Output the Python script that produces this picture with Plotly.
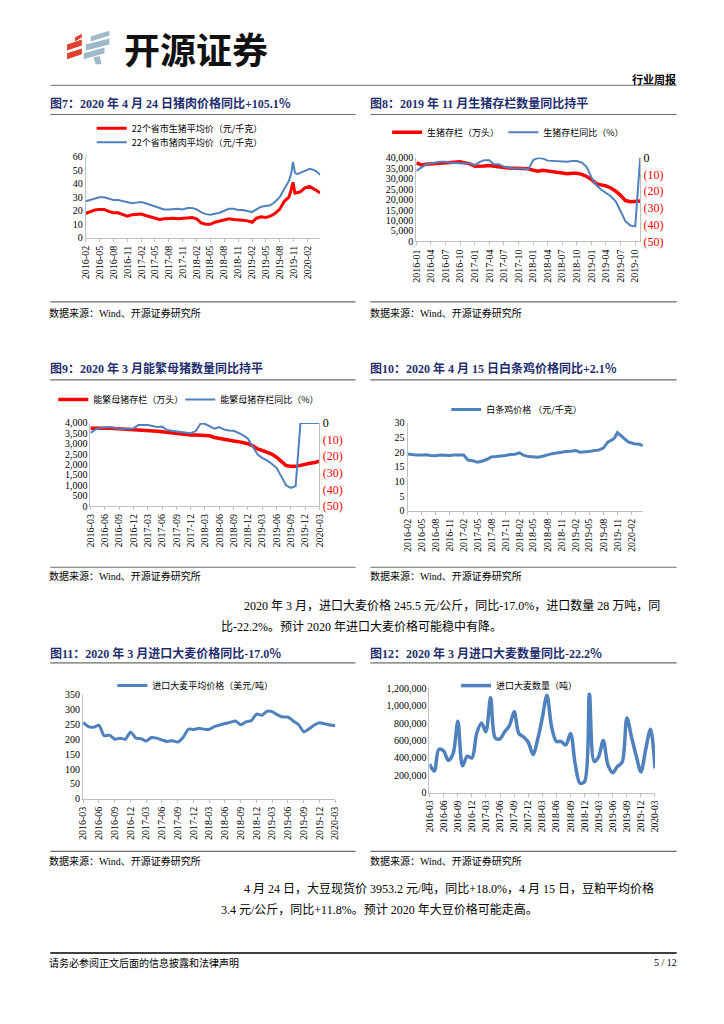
import plotly.graph_objects as go

W, H = 724, 1024


def px(x):
    return x / W


def py(y):
    return 1 - y / H


def month_range(start_year, start_month, n):
    out = []
    y, m = start_year, start_month
    for _ in range(n):
        out.append(f"{y:04d}-{m:02d}-01")
        m += 1
        if m > 12:
            m = 1
            y += 1
    return out


SERIF = "Liberation Serif, Noto Sans CJK SC, serif"
CJK = "Noto Sans CJK SC, sans-serif"
RED = "#FF0000"
BLUE = "#4F81BD"
NAVY = "#1F2E6E"
AXIS = "#BFBFBF"
RULE = "#6B6B6B"

# ---------------- data ----------------
# Fig 7: pork / live hog prices (yuan/kg)
dates7 = month_range(2016, 2, 44) + [
    "2019-10-01", "2019-10-15", "2019-10-28", "2019-11-10", "2019-11-25",
    "2019-12-15", "2020-01-15", "2020-02-15", "2020-03-15", "2020-04-01", "2020-04-24"]
hog7 = [18, 19.5, 20.5, 21, 21, 19.5, 18.5, 18.5, 17.5, 16, 17, 17.5,
        17.5, 16.5, 15.5, 14.5, 13.5, 14, 14.5, 14.5, 14, 14.5, 15, 15,
        14, 11, 10, 10, 11.5, 12.5, 13.5, 14, 13.5, 13.5, 13, 12.5,
        11.5, 14.5, 15.5, 15, 16, 18, 21, 27,
        30, 35, 41, 33, 33.5, 34, 37, 38, 36, 35, 33]
pork7 = [27, 28, 29, 30, 30, 29, 28, 28, 27, 26, 25.5, 26,
         26.5, 25.5, 24.5, 23.5, 22, 21, 21, 21.5, 21.5, 21, 22, 22,
         21, 19, 17.5, 17, 17.5, 18.5, 20, 21.5, 21.5, 20.5, 20.5, 20,
         19, 21, 23, 23.5, 24, 26.5, 30, 36,
         42, 47, 56, 48, 47, 48, 49.5, 51, 50, 49, 46.5]

# Fig 8: hog inventory
dates8 = month_range(2016, 1, 47)
stock8 = [37500, 36500, 36800, 37000, 37200, 37500, 37800, 37800, 37900, 38000, 37500, 37000,
          35900, 35800, 36000, 36200, 35800, 35600, 35300, 35000, 35000, 34900, 34800, 34700,
          34000, 33500, 34000, 33600, 33200, 32700, 32400, 32300, 32500, 32500, 32000, 31000,
          29500, 27500, 27000, 26500, 25500, 24000, 22000, 19500, 19000, 19000, 19300]
yoy8 = [-8, -6, -4, -3.5, -3, -2.5, -2.5, -3, -3, -3.5, -3.5, -3.5,
        -4.5, -2.5, -1.5, -1.5, -4, -4, -5.5, -6, -6.5, -6.5, -6.5, -7,
        -1.5, -0.2, -0.5, -1.8, -2, -2, -2.2, -2.5, -2, -2, -3, -5.5,
        -12, -16.5, -19, -21, -23, -26, -32, -38, -40.5, -41, 0]

# Fig 9: breeding sow inventory
dates9 = month_range(2016, 3, 49)
sow9 = [3750, 3760, 3770, 3760, 3750, 3730, 3720, 3700, 3680, 3660,
        3650, 3640, 3630, 3620, 3600, 3580, 3550, 3520, 3500, 3480, 3460, 3420,
        3420, 3400, 3420, 3380, 3300, 3250, 3200, 3150, 3130, 3100, 3050, 3000,
        2900, 2750, 2680, 2600, 2500, 2350, 2150, 1950, 1910, 1910, 1960, 2030,
        2060, 2100, 2160]
yoy9 = [-6, -4, -3, -2.7, -2.5, -3, -3.5, -3.5, -3.3, -3.3,
        -1.2, -1.2, -1.3, -1.8, -2.5, -2.2, -4.2, -4.7, -5, -5.3, -5.5, -6.2,
        -5, -0.5, -0.5, -1.8, -3.5, -2.5, -4, -4.5, -4.7, -6, -7.5, -9.5,
        -14, -19, -21, -22.5, -24.5, -27, -32, -37.5, -39, -38, 0, 0,
        0, 0, 0]

# Fig 10: white-feather broiler price (yuan/kg)
dates10 = month_range(2016, 2, 43) + [
    "2019-09-01", "2019-10-01", "2019-10-15", "2019-11-01", "2019-11-28",
    "2019-12-20", "2020-01-10", "2020-02-18", "2020-03-25", "2020-04-15"]
chicken10 = [19.4, 19.1, 19.0, 19.0, 19.1, 18.9, 18.8, 19.0, 18.9, 18.9, 19.0,
             18.9, 19.0, 17.3, 17.1, 16.6, 16.9, 17.5, 18.4, 18.5, 18.6, 18.9, 19.2,
             19.3, 19.8, 18.9, 18.5, 18.3, 18.3, 18.6, 19.1, 19.5, 19.7, 20.0, 20.2,
             20.3, 20.6, 20.0, 20.0, 20.2, 20.6, 20.7, 21.4,
             23.5, 24.3, 25.0, 26.7, 25.5, 24.4, 23.5, 22.9, 22.7, 22.2]

# Fig 11: imported barley price (USD/t)
dates11 = month_range(2016, 3, 49)
barley_price11 = [257, 243, 241, 247, 212, 214, 200, 204, 200, 225,
                  204, 202, 194, 206, 204, 198, 193, 195, 191, 206, 234, 233,
                  237, 234, 233, 243, 248, 253, 257, 262, 249, 259, 263, 285,
                  281, 295, 293, 282, 275, 275, 262, 250, 225, 235, 248, 256,
                  252, 248, 245.5]

# Fig 12: imported barley volume (t)
dates12 = month_range(2016, 3, 49)
barley_qty12 = [330000, 250000, 500000, 480000, 370000, 450000, 820000, 310000, 420000, 400000,
                680000, 800000, 700000, 1090000, 630000, 620000, 700000, 770000, 930000, 680000,
                640000, 580000, 440000, 620000, 850000, 1120000, 760000, 590000, 590000, 550000,
                680000, 330000, 110000, 130000, 1130000, 360000, 410000, 600000, 320000, 230000,
                300000, 350000, 860000, 640000, 420000, 240000, 500000, 730000, 280000]

neg_ticks = [0, -10, -20, -30, -40, -50]
neg_text = ["0"] + [f'<span style="color:{RED}">({abs(v)})</span>' for v in neg_ticks[1:]]

# ---------------- traces ----------------
fig = go.Figure()

fig.add_trace(go.Scatter(x=dates7, y=hog7, name="22个省市生猪平均价（元/千克）", mode="lines",
                         line=dict(color=RED, width=3), xaxis="x", yaxis="y", legend="legend"))
fig.add_trace(go.Scatter(x=dates7, y=pork7, name="22个省市猪肉平均价（元/千克）", mode="lines",
                         line=dict(color=BLUE, width=2), xaxis="x", yaxis="y", legend="legend7"))

fig.add_trace(go.Scatter(x=dates8, y=stock8, name="生猪存栏（万头）", mode="lines",
                         line=dict(color=RED, width=3.5), xaxis="x2", yaxis="y2", legend="legend2"))
fig.add_trace(go.Scatter(x=dates8, y=yoy8, name="生猪存栏同比（%）", mode="lines",
                         line=dict(color=BLUE, width=2), xaxis="x2", yaxis="y7", legend="legend8"))

fig.add_trace(go.Scatter(x=dates9, y=sow9, name="能繁母猪存栏（万头）", mode="lines",
                         line=dict(color=RED, width=3.5), xaxis="x3", yaxis="y3", legend="legend3"))
fig.add_trace(go.Scatter(x=dates9, y=yoy9, name="能繁母猪存栏同比（%）", mode="lines",
                         line=dict(color=BLUE, width=2), xaxis="x3", yaxis="y8", legend="legend9"))

fig.add_trace(go.Scatter(x=dates10, y=chicken10, name="白条鸡价格 （元/千克）", mode="lines",
                         line=dict(color=BLUE, width=3), xaxis="x4", yaxis="y4", legend="legend4"))

fig.add_trace(go.Scatter(x=dates11, y=barley_price11, name="进口大麦平均价格（美元/吨）", mode="lines",
                         line=dict(color=BLUE, width=3, shape="spline", smoothing=0.6),
                         xaxis="x5", yaxis="y5", legend="legend5"))

fig.add_trace(go.Scatter(x=dates12, y=barley_qty12, name="进口大麦数量（吨）", mode="lines",
                         line=dict(color=BLUE, width=3.5, shape="spline", smoothing=0.9),
                         xaxis="x6", yaxis="y6", legend="legend6"))

# ---------------- axes ----------------
def tfont(size):
    return dict(family=SERIF, size=size, color="#000000")


def xax(dom, anchor, tick0, rng, fs=10):
    return dict(domain=dom, anchor=anchor, type="date", range=rng, tick0=tick0, dtick="M3",
                tickformat="%Y-%m", tickangle=-90, ticks="outside", ticklen=3, tickcolor=AXIS,
                showline=True, linecolor=AXIS, linewidth=1, showgrid=False, zeroline=False,
                tickfont=tfont(fs), fixedrange=True)


def yax(dom, anchor, rng, dtick, fmt=None, fs=10):
    d = dict(domain=dom, anchor=anchor, range=rng, dtick=dtick, showline=True, linecolor=AXIS,
             linewidth=1, showgrid=False, zeroline=False, ticks="", tickfont=tfont(fs),
             fixedrange=True)
    if fmt:
        d["tickformat"] = fmt
    return d


def ysec(overlay, anchor, fs=12):
    return dict(overlaying=overlay, anchor=anchor, side="right", range=[-50, 0],
                tickvals=neg_ticks, ticktext=neg_text, showline=True, linecolor=AXIS,
                linewidth=1, showgrid=False, zeroline=False, ticks="", tickfont=tfont(fs),
                fixedrange=True)


layout_axes = dict(
    xaxis=xax([px(81), px(319)], "y", "2016-02-01", ["2016-02-01", "2020-04-24"]),
    yaxis=yax([py(234), py(151.7)], "x", [0, 60], 10),
    xaxis2=xax([px(416.7), px(644)], "y2", "2016-01-01", ["2016-01-01", "2019-11-01"]),
    yaxis2=yax([py(237.7), py(152.7)], "x2", [0, 40000], 5000, ",d", fs=10),
    yaxis7=ysec("y2", "x2"),
    xaxis3=xax([px(85.7), px(318.3)], "y3", "2016-03-01", ["2016-03-01", "2020-03-01"]),
    yaxis3=yax([py(506), py(421.7)], "x3", [0, 4000], 500, ",d", fs=10),
    yaxis8=ysec("y3", "x3"),
    xaxis4=xax([px(407.7), px(646.7)], "y4", "2016-02-01", ["2016-02-01", "2020-04-15"]),
    yaxis4=yax([py(510.7), py(421.7)], "x4", [0, 30], 5),
    xaxis5=xax([px(78.3), px(334.3)], "y5", "2016-03-01", ["2016-03-01", "2020-03-01"]),
    yaxis5=yax([py(802.7), py(697.3)], "x5", [0, 350], 50),
    xaxis6=xax([px(430), px(659)], "y6", "2016-03-01", ["2016-03-01", "2020-03-01"], fs=9.5),
    yaxis6=yax([py(796.7), py(690.7)], "x6", [0, 1200000], 200000, ",d"),
)


# legend box left = text start - 40 px (symbol 30 px wide starting 5 px in)
def leg(text_x, y):
    return dict(x=px(text_x - 40), y=py(y), xanchor="left", yanchor="middle", orientation="h",
                font=dict(family=CJK, size=9, color="#000000"), bgcolor="rgba(0,0,0,0)",
                tracegroupgap=0, itemwidth=30, itemclick=False, itemdoubleclick=False)


legends = dict(
    legend=leg(127, 123),
    legend7=leg(127, 137),
    legend2=leg(427, 127),
    legend8=leg(545, 127),
    legend3=leg(88, 398),
    legend9=leg(217, 398),
    legend4=leg(487, 408),
    legend5=leg(148, 688),
    legend6=leg(497, 688),
)

# ---------------- text ----------------
ann = []
PAD = 3  # annotation inner padding


def text(x, y, s, size, family=SERIF, color="#000000", xanchor="left", bold=False):
    xx = x - PAD if xanchor == "left" else x + PAD
    ann.append(dict(x=px(xx), y=py(y), xref="paper", yref="paper", text=(f"<b>{s}</b>" if bold else s),
                    showarrow=False, xanchor=xanchor, yanchor="middle",
                    font=dict(family=family, size=size, color=color)))


text(121, 42, "开源证券", 36, family=CJK, color="#111111", bold=True)
text(679, 73, "行业周报", 11, family=CJK, color="#000000", xanchor="right", bold=True)

text(46, 98, "图7：2020 年 4 月 24 日猪肉价格同比+105.1％", 12, color=NAVY, bold=True)
text(371, 98, "图8：2019 年 11 月生猪存栏数量同比持平", 12, color=NAVY, bold=True)
text(46, 367, "图9：2020 年 3 月能繁母猪数量同比持平", 12, color=NAVY, bold=True)
text(371, 367, "图10：2020 年 4 月 15 日白条鸡价格同比+2.1％", 12, color=NAVY, bold=True)
text(46, 655, "图11：2020 年 3 月进口大麦价格同比-17.0％", 12, color=NAVY, bold=True)
text(371, 655, "图12：2020 年 3 月进口大麦数量同比-22.2％", 12, color=NAVY, bold=True)

src = "数据来源：Wind、开源证券研究所"
for (x, y) in [(45, 310), (371, 310), (45, 577), (371, 577), (45, 866), (371, 866)]:
    text(x, y, src, 10)

text(243, 607, "2020 年 3 月，进口大麦价格 245.5 元/公斤，同比-17.0%，进口数量 28 万吨，同", 12)
text(219, 628, "比-22.2%。预计 2020 年进口大麦价格可能稳中有降。", 12)
text(243, 894, "4 月 24 日，大豆现货价 3953.2 元/吨，同比+18.0%，4 月 15 日，豆粕平均价格", 12)
text(219, 915, "3.4 元/公斤，同比+11.8%。预计 2020 年大豆价格可能走高。", 12)

text(45, 969, "请务必参阅正文后面的信息披露和法律声明", 10)
text(680, 969, "5 / 12", 10, xanchor="right")

# ---------------- shapes ----------------
shapes = []


def hline(x0, x1, y, color=RULE, width=1.2):
    shapes.append(dict(type="line", xref="paper", yref="paper", x0=px(x0), x1=px(x1),
                       y0=py(y), y1=py(y), line=dict(color=color, width=width)))


hline(45, 681, 79.5, color="#8C8C8C", width=1.2)
for y in (109, 378, 665):
    hline(45, 355, y)
    hline(370, 681, y)
for y in (299, 568, 856):
    hline(45, 355, y)
    hline(370, 681, y)
hline(45, 681, 959, color="#404040", width=2)


def poly(pts, color):
    path = "M " + " L ".join(f"{px(x)},{py(y)}" for x, y in pts) + " Z"
    shapes.append(dict(type="path", xref="paper", yref="paper", path=path,
                       fillcolor=color, line=dict(width=0)))


LOGO_RED = "#E0412F"
LOGO_BLUE = "#9DB9CB"
poly([(70, 31), (77, 27), (77, 31), (70, 35)], LOGO_RED)
poly([(62, 38), (77, 33), (77, 39), (62, 44)], LOGO_RED)
poly([(62, 47), (77, 42), (77, 48), (62, 53)], LOGO_RED)
poly([(86, 30), (105, 24), (105, 29), (86, 35)], LOGO_BLUE)
poly([(81, 38), (105, 32), (105, 38), (81, 44)], LOGO_BLUE)
poly([(79, 47), (100, 41), (100, 47), (79, 53)], LOGO_BLUE)
poly([(89, 51), (95, 50), (97, 58), (91, 58)], LOGO_BLUE)

fig.update_layout(
    width=W, height=H, margin=dict(l=0, r=0, t=0, b=0, pad=0),
    paper_bgcolor="#FFFFFF", plot_bgcolor="rgba(0,0,0,0)",
    showlegend=True, annotations=ann, shapes=shapes,
    font=dict(family=SERIF, size=9, color="#000000"),
    **layout_axes, **legends,
)

fig.write_html("out.html", config={"displayModeBar": False, "staticPlot": True},
               post_script="document.body.style.margin='0';document.body.style.overflow='hidden';")
